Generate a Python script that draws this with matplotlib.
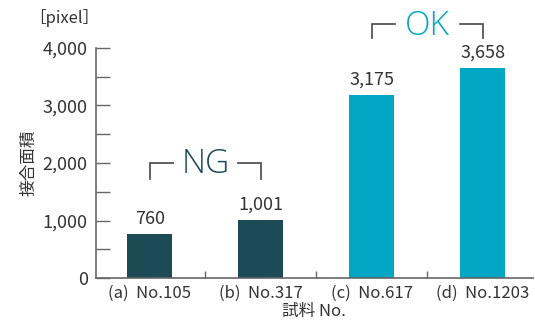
import matplotlib.pyplot as plt
from matplotlib.ticker import MultipleLocator, FuncFormatter

plt.rcParams['font.family'] = ['Noto Sans CJK JP', 'DejaVu Sans']

samples = ['(a)  No.105', '(b)  No.317', '(c)  No.617', '(d)  No.1203']
area = [760, 1001, 3175, 3658]
groups = ['NG', 'NG', 'OK', 'OK']

DARK = '#1c4b56'
CYAN = '#00a7c4'
TXT = '#333333'
AX = '#666666'

fig = plt.figure(figsize=(5.35, 3.23), dpi=100)
ax = fig.add_axes([0.1794, 0.1393, 0.8166, 0.7121])

x = list(range(len(samples)))
colors = [DARK if g == 'NG' else CYAN for g in groups]
ax.bar(x, area, width=0.405, color=colors, zorder=2)

for xi, v in zip(x, area):
    ax.annotate(f'{v:,}', (xi, v), xytext=(0, 7.5), textcoords='offset points',
                ha='center', va='baseline', fontsize=13, color=TXT)

ax.set_ylim(0, 4000)
ax.set_xlim(-0.486, 3.45)
ax.yaxis.set_major_locator(MultipleLocator(1000))
ax.yaxis.set_minor_locator(MultipleLocator(500))
ax.yaxis.set_major_formatter(FuncFormatter(lambda v, p: f'{int(v):,}'))
ax.tick_params(axis='y', which='both', direction='in', length=10, width=1,
               color=AX, labelsize=13, labelcolor=TXT, pad=6)

ax.set_xticks(x)
ax.set_xticklabels(samples)
ax.set_xticks([0.5, 1.5, 2.5], minor=True)
ax.tick_params(axis='x', which='major', length=0, labelsize=12,
               labelcolor=TXT, pad=5)
ax.tick_params(axis='x', which='minor', direction='in', length=5, width=1, color=AX)

for s in ['top', 'right']:
    ax.spines[s].set_visible(False)
for s in ['left', 'bottom']:
    ax.spines[s].set_color(AX)
    ax.spines[s].set_linewidth(1.2)

ax.set_xlabel('試料 No.', fontsize=12, color=TXT, labelpad=1)
ax.set_ylabel('接合面積', fontsize=12, color=TXT)
ax.yaxis.set_label_coords(-0.135, 0.5)
fig.text(0.12, 0.945, '［pixel］', fontsize=12, color=TXT, ha='center', va='center')

# group brackets
bracket = dict(color='#555555', lw=1.3, clip_on=False, solid_joinstyle='miter')
ax.plot([0, 0, 0.21], [1720, 2000, 2000], **bracket)
ax.plot([0.79, 1, 1], [2000, 2000, 1720], **bracket)
ax.text(0.5, 1826, 'NG', fontsize=24, color=DARK, ha='center', va='baseline',
        family=['Open Sans', 'DejaVu Sans'], fontweight='light')

ax.plot([2, 2, 2.21], [4170, 4415, 4415], **bracket)
ax.plot([2.79, 3, 3], [4415, 4415, 4170], **bracket)
ax.text(2.5, 4226, 'OK', fontsize=24, color=CYAN, ha='center', va='baseline',
        clip_on=False, family=['Open Sans', 'DejaVu Sans'], fontweight='light')

fig.savefig('out.png', dpi=100)
